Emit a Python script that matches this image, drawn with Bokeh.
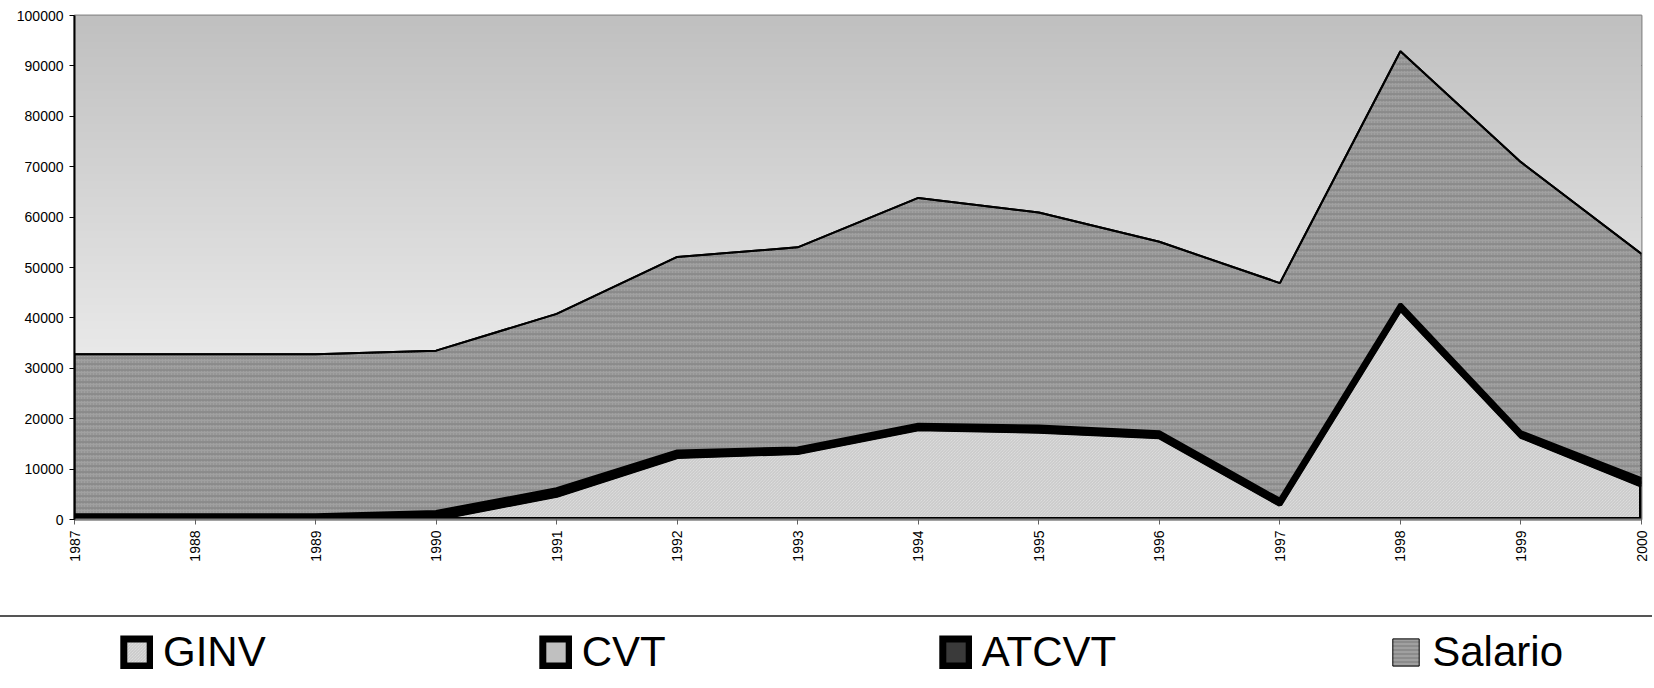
import numpy as np
from math import pi
from bokeh.plotting import figure
from bokeh.layouts import column
from bokeh.models import (Range1d, FixedTicker, NumeralTickFormatter, Legend,
                          LegendItem, ColumnDataSource, Div)
from bokeh.embed import file_html
from bokeh.resources import INLINE

# ---------------- data ----------------
years = [1987, 1988, 1989, 1990, 1991, 1992, 1993, 1994, 1995, 1996, 1997, 1998, 1999, 2000]
ginv = [0, 0, 0, 200, 4800, 12500, 13300, 18000, 17500, 16400, 3000, 41800, 16500, 6800]
cvt = [400, 400, 400, 600, 550, 450, 350, 350, 450, 400, 400, 400, 350, 550]
atcvt = [450, 450, 450, 700, 650, 550, 450, 450, 500, 500, 500, 500, 450, 650]
salario = [31950, 31950, 31950, 32000, 34800, 38600, 39900, 45000, 42450, 37800, 43000, 50200, 53600, 44700]
y_ticks = [0, 10000, 20000, 30000, 40000, 50000, 60000, 70000, 80000, 90000, 100000]
series_names = ["GINV", "CVT", "ATCVT", "Salario"]

FONT = "Liberation Sans"
W = 1652

# stacked levels
s1 = np.array(ginv, dtype=float)
s2 = s1 + np.array(cvt)
s3 = s2 + np.array(atcvt)
s4 = s3 + np.array(salario)
xs = list(years) + list(years[::-1])
zeros = np.zeros(len(years))


def band(lo, hi):
    return ColumnDataSource(data=dict(x=xs, y=list(hi) + list(lo[::-1])))


src_ginv = band(zeros, s1)
src_cvt = band(s1, s2)
src_atcvt = band(s2, s3)
src_sal = band(s3, s4)

# styles
STY_SAL = dict(fill_color="#a0a0a0", hatch_pattern="horizontal_line", hatch_color="#787878",
               hatch_scale=6, hatch_weight=1)
STY_GINV = dict(fill_color="#e6e6e6", hatch_pattern="left_diagonal_line", hatch_color="#c4c4c4",
                hatch_scale=3, hatch_weight=1)
STY_CVT = dict(fill_color="#c0c0c0")
STY_ATCVT = dict(fill_color="#333333")

y_max = y_ticks[-1]
p = figure(width=W, height=615,
           x_range=Range1d(years[0], years[-1]), y_range=Range1d(0, y_max),
           output_backend="svg", toolbar_location=None,
           min_border_left=74, min_border_right=W - 1641, min_border_top=15, min_border_bottom=96)
p.background_fill_color = "white"
p.border_fill_color = "white"
p.outline_line_color = "#8c8c8c"
p.outline_line_width = 2

# background gradient (grey at top -> near white at bottom)
n = 256
t = np.linspace(0, 1, n)
g = (253 - t * (253 - 192)).astype(np.uint8)
img = np.empty((n, 1), dtype=np.uint32)
view = img.view(dtype=np.uint8).reshape((n, 1, 4))
view[:, 0, 0] = g
view[:, 0, 1] = g
view[:, 0, 2] = g
view[:, 0, 3] = 255
p.image_rgba(image=[img], x=years[0], y=0, dw=years[-1] - years[0], dh=y_max)

# grid
p.xgrid.visible = False
p.ygrid.ticker = FixedTicker(ticks=y_ticks)
p.ygrid.grid_line_color = "black"
p.ygrid.grid_line_width = 1

# Salario (top area, textured dark grey)
p.patch("x", "y", source=src_sal, line_color="black", line_width=2, **STY_SAL)
p.patch("x", "y", source=src_sal, fill_alpha=0,
        hatch_pattern="dot", hatch_color="#868686", hatch_scale=3, hatch_weight=1, line_alpha=0)
p.line(years, s4, line_color="black", line_width=2)

# GINV, CVT, ATCVT (thin stacked bands with heavy borders)
p.patch("x", "y", source=src_ginv, line_color="black", line_width=5, **STY_GINV)
p.patch("x", "y", source=src_cvt, line_color="black", line_width=4, **STY_CVT)
p.patch("x", "y", source=src_atcvt, line_color="black", line_width=4, **STY_ATCVT)

# axes
p.xaxis.ticker = FixedTicker(ticks=years)
p.xaxis.major_label_overrides = {yr: str(yr) for yr in years}
p.xaxis.major_label_orientation = pi / 2
p.xaxis.axis_line_color = "#808080"
p.xaxis.axis_line_width = 2
p.xaxis.major_tick_line_color = "#606060"
p.xaxis.major_tick_out = 5
p.xaxis.major_tick_in = 0
p.xaxis.minor_tick_line_color = None
p.xaxis.major_label_standoff = 6

p.yaxis.ticker = FixedTicker(ticks=y_ticks)
p.yaxis.formatter = NumeralTickFormatter(format="0")
p.yaxis.axis_line_color = "black"
p.yaxis.axis_line_width = 2
p.yaxis.major_tick_line_color = "black"
p.yaxis.major_tick_out = 5
p.yaxis.major_tick_in = 0
p.yaxis.minor_tick_line_color = None
p.yaxis.major_label_standoff = 6

for ax in (p.xaxis[0], p.yaxis[0]):
    ax.major_label_text_font = FONT
    ax.major_label_text_font_size = "14px"
    ax.major_label_text_color = "black"

# ---------------- separator ----------------
sep = Div(text="", width=W, height=2, margin=0, styles={"background-color": "#555555"})

# ---------------- legend strip ----------------
# legend proxies reuse the data sources; the x range keeps them off-screen
p2 = figure(width=W, height=69, x_range=Range1d(0, 1), y_range=Range1d(0, 1),
            output_backend="svg", toolbar_location=None,
            min_border_left=74, min_border_right=W - 1641, min_border_top=0, min_border_bottom=0,
            x_axis_location=None, y_axis_location=None)
p2.outline_line_color = None
p2.grid.visible = False
p2.background_fill_color = "white"
p2.border_fill_color = "white"

lg_ginv = p2.patch("x", "y", source=src_ginv, line_color="black", line_width=7,
                   line_join="miter", **STY_GINV)
lg_cvt = p2.patch("x", "y", source=src_cvt, line_color="black", line_width=7,
                  line_join="miter", **STY_CVT)
lg_atcvt = p2.patch("x", "y", source=src_atcvt, line_color="black", line_width=7,
                    line_join="miter", fill_color="#3a3a3a")
lg_sal = p2.patch("x", "y", source=src_sal, line_color="black", line_width=1, line_join="miter",
                  fill_color="#a0a0a0", hatch_pattern="horizontal_line", hatch_color="#787878",
                  hatch_scale=4, hatch_weight=1)

legend = Legend(items=[LegendItem(label=series_names[0], renderers=[lg_ginv]),
                       LegendItem(label=series_names[1], renderers=[lg_cvt]),
                       LegendItem(label=series_names[2], renderers=[lg_atcvt]),
                       LegendItem(label=series_names[3], renderers=[lg_sal])],
                orientation="horizontal", location=(46, 10),
                glyph_width=33, glyph_height=34, label_standoff=10, spacing=273,
                padding=0, margin=0, border_line_color=None, background_fill_alpha=0,
                label_text_font=FONT, label_text_font_size="42px", label_text_color="black")
p2.add_layout(legend)

layout = column(p, sep, p2, spacing=0)
open("out.html", "w").write(file_html(layout, INLINE))
